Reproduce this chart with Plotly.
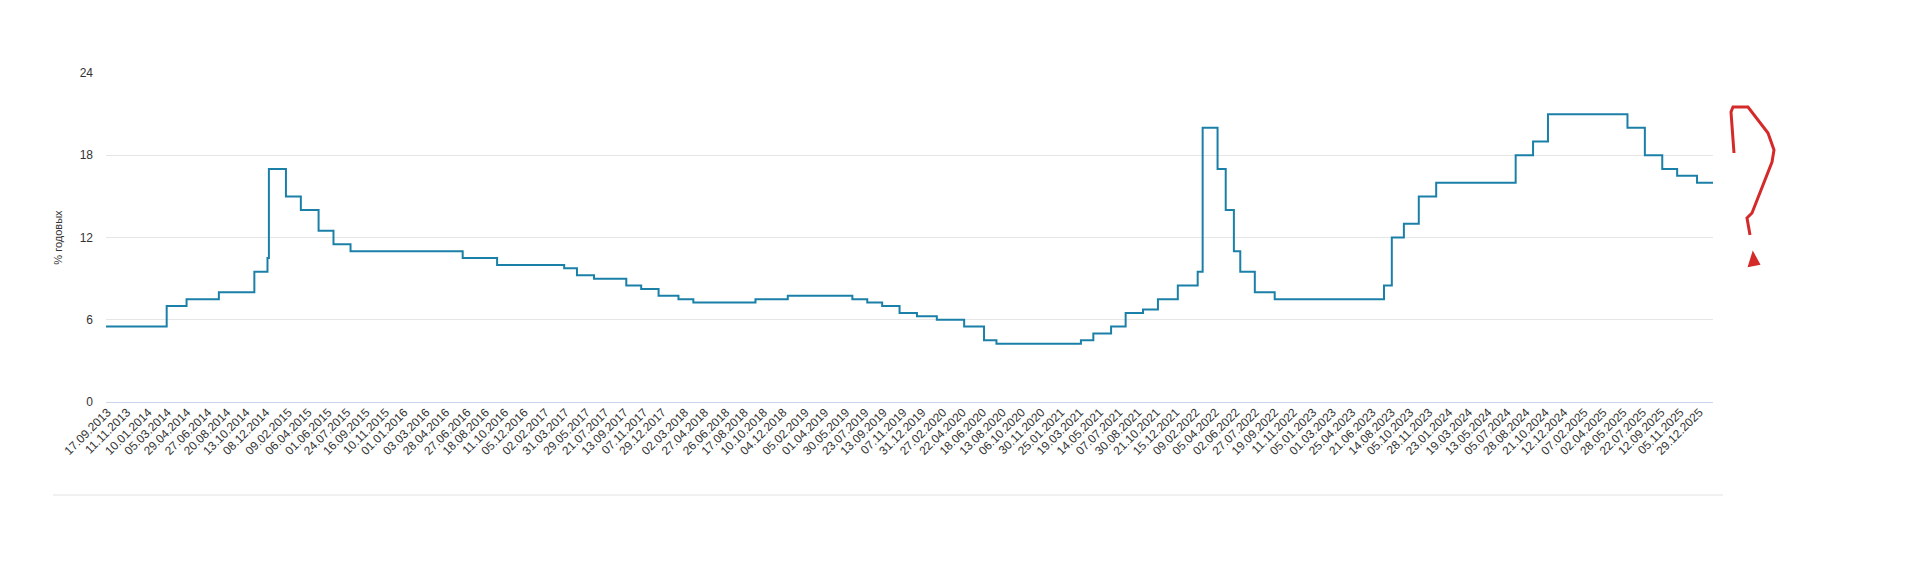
import plotly.graph_objects as go
from datetime import datetime

# key rate change dates and values (% per year)
change_dates = [
  "13.09.2013", "03.03.2014", "28.04.2014", "28.07.2014", "05.11.2014", "12.12.2014",
  "16.12.2014", "02.02.2015", "16.03.2015", "05.05.2015", "16.06.2015", "03.08.2015",
  "14.06.2016", "19.09.2016", "27.03.2017", "02.05.2017", "19.06.2017", "18.09.2017",
  "30.10.2017", "18.12.2017", "12.02.2018", "26.03.2018", "17.09.2018", "17.12.2018",
  "17.06.2019", "29.07.2019", "09.09.2019", "28.10.2019", "16.12.2019", "10.02.2020",
  "27.04.2020", "22.06.2020", "27.07.2020", "22.03.2021", "26.04.2021", "15.06.2021",
  "26.07.2021", "13.09.2021", "25.10.2021", "20.12.2021", "14.02.2022", "28.02.2022",
  "11.04.2022", "04.05.2022", "27.05.2022", "14.06.2022", "25.07.2022", "19.09.2022",
  "24.07.2023", "15.08.2023", "18.09.2023", "30.10.2023", "18.12.2023", "29.07.2024",
  "16.09.2024", "28.10.2024", "09.06.2025", "28.07.2025", "15.09.2025", "27.10.2025",
  "22.12.2025", "05.02.2026",
]
rates = [
  5.5, 7.0, 7.5, 8.0, 9.5, 10.5,
  17.0, 15.0, 14.0, 12.5, 11.5, 11.0,
  10.5, 10.0, 9.75, 9.25, 9.0, 8.5,
  8.25, 7.75, 7.5, 7.25, 7.5, 7.75,
  7.5, 7.25, 7.0, 6.5, 6.25, 6.0,
  5.5, 4.5, 4.25, 4.5, 5.0, 5.5,
  6.5, 6.75, 7.5, 8.5, 9.5, 20.0,
  17.0, 14.0, 11.0, 9.5, 8.0, 7.5,
  8.5, 12.0, 13.0, 15.0, 16.0, 18.0,
  19.0, 21.0, 20.0, 18.0, 17.0, 16.5,
  16.0, 16.0,
]

tick_labels = [
  "17.09.2013", "11.11.2013", "10.01.2014", "05.03.2014", "29.04.2014", "27.06.2014",
  "20.08.2014", "13.10.2014", "08.12.2014", "09.02.2015", "06.04.2015", "01.06.2015",
  "24.07.2015", "16.09.2015", "10.11.2015", "01.01.2016", "03.03.2016", "28.04.2016",
  "27.06.2016", "18.08.2016", "11.10.2016", "05.12.2016", "02.02.2017", "31.03.2017",
  "29.05.2017", "21.07.2017", "13.09.2017", "07.11.2017", "29.12.2017", "02.03.2018",
  "27.04.2018", "26.06.2018", "17.08.2018", "10.10.2018", "04.12.2018", "05.02.2019",
  "01.04.2019", "30.05.2019", "23.07.2019", "13.09.2019", "07.11.2019", "31.12.2019",
  "27.02.2020", "22.04.2020", "18.06.2020", "13.08.2020", "06.10.2020", "30.11.2020",
  "25.01.2021", "19.03.2021", "14.05.2021", "07.07.2021", "30.08.2021", "21.10.2021",
  "15.12.2021", "09.02.2022", "05.04.2022", "02.06.2022", "27.07.2022", "19.09.2022",
  "11.11.2022", "05.01.2023", "01.03.2023", "25.04.2023", "21.06.2023", "14.08.2023",
  "05.10.2023", "28.11.2023", "23.01.2024", "19.03.2024", "13.05.2024", "05.07.2024",
  "28.08.2024", "21.10.2024", "12.12.2024", "07.02.2025", "02.04.2025", "28.05.2025",
  "22.07.2025", "12.09.2025", "05.11.2025", "29.12.2025",
]
y_ticks = [0, 6, 12, 18, 24]


def to_date(s):
  return datetime.strptime(s, "%d.%m.%Y")


# page has an 8px body margin, so work in page pixels minus that offset
OFF = 8
W, H = 1928 - OFF, 576 - OFF
L, R, T, B = 106 - OFF, 1713 - OFF, 73 - OFF, 402 - OFF


def px(x, y):
  # page pixel position -> paper coords
  return (x - OFF - L) / (R - L), (B - (y - OFF)) / (B - T)


fig = go.Figure()
fig.add_trace(go.Scatter(
  x=[to_date(d) for d in change_dates], y=rates, mode="lines",
  line=dict(shape="hv", color="#1b80a8", width=2), hoverinfo="x+y",
))

# bottom separator line
x0, y0 = px(53, 495)
x1, _ = px(1723, 495)
fig.add_shape(type="line", xref="paper", yref="paper", x0=x0, x1=x1, y0=y0, y1=y0,
              line=dict(color="#e3e3e3", width=1))

# hand-drawn question mark
qm = [(1734, 153), (1731, 112), (1733, 107), (1748, 107), (1768, 133), (1774, 150),
      (1772, 162), (1752, 213), (1747, 218), (1750, 235)]
path = "M " + " L ".join("%f,%f" % px(a, b) for a, b in qm)
fig.add_shape(type="path", xref="paper", yref="paper", path=path,
              line=dict(color="#d42a2a", width=3))
dot = [(1753, 253), (1749, 266), (1759, 264)]
path = "M " + " L ".join("%f,%f" % px(a, b) for a, b in dot) + " Z"
fig.add_shape(type="path", xref="paper", yref="paper", path=path,
              line=dict(color="#d42a2a", width=2), fillcolor="#d42a2a")

fig.update_layout(
  width=W, height=H, showlegend=False,
  margin=dict(l=L, r=W - R, t=T, b=H - B),
  paper_bgcolor="white", plot_bgcolor="white",
  font=dict(family="Liberation Sans, Arial, sans-serif", size=12, color="#333333"),
  xaxis=dict(
    type="date", range=[to_date("13.09.2013"), to_date("05.02.2026")],
    tickvals=[to_date(t) for t in tick_labels], ticktext=tick_labels,
    tickangle=-45, showgrid=False, zeroline=False, showline=False, ticks="",
    tickfont=dict(size=12, color="#333333"),
  ),
  yaxis=dict(
    range=[0, 24], tickvals=y_ticks, showgrid=True, gridcolor="#e6e6e6",
    zeroline=True, zerolinecolor="#ccd6eb", zerolinewidth=1,
    ticks="", ticklen=0, ticklabelstandoff=12, tickfont=dict(size=12, color="#333333"),
    title=dict(text="% годовых", font=dict(size=11, color="#333333"), standoff=14),
  ),
)

fig.write_html("out.html")
